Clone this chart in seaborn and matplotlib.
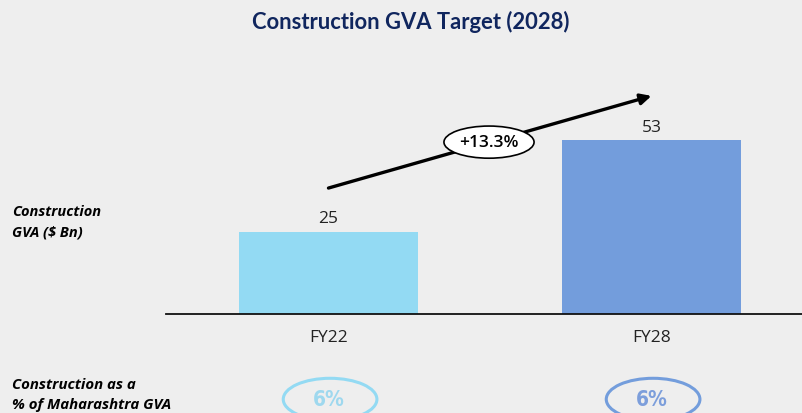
import matplotlib
matplotlib.use("Agg")
import matplotlib.pyplot as plt
from matplotlib.patches import Ellipse
import seaborn as sns
import pandas as pd

# Chart data
years = ["FY22", "FY28"]
gva_bn = [25, 53]
share_of_state = ["6%", "6%"]
growth_label = "+13.3%"
bar_colors = ["#93DAF3", "#739DDC"]
ring_text_colors = ["#9ED8EE", "#7C9EDB"]

BG = "#EEEEEE"
NAVY = "#10265E"

sns.set_theme(style="white")
plt.rcParams["font.family"] = ["Open Sans", "DejaVu Sans"]

fig = plt.figure(figsize=(8.02, 4.14), dpi=100, facecolor=BG)
# axes: baseline at 315 px from top, spanning x 166..802 px
ax = fig.add_axes([166 / 802, (414 - 315) / 414, (802 - 166) / 802, 262.4 / 414])
ax.set_facecolor(BG)

df = pd.DataFrame({"year": years, "gva": gva_bn})
sns.barplot(data=df, x="year", y="gva", hue="year", palette=bar_colors,
            width=0.554, legend=False, ax=ax, saturation=1, linewidth=0,
            edgecolor="none")

ax.set_xlim(-0.503, 1.466)
ax.set_ylim(0, 80)
ax.set_xlabel("")
ax.set_ylabel("")
ax.set_yticks([])
ax.tick_params(axis="x", length=0, pad=11, labelsize=12.5, labelcolor="#222222")
for s in ["top", "right", "left"]:
    ax.spines[s].set_visible(False)
ax.spines["bottom"].set_color("#111111")
ax.spines["bottom"].set_linewidth(1.3)

# value labels above bars
for i, v in enumerate(gva_bn):
    ax.text(i, v + 1.7, f"{v}", ha="center", va="bottom", fontsize=12.5,
            color="#222222")

# growth arrow with CAGR badge
ax.annotate("", xy=(1.0, 66.5), xytext=(0.0, 38.4),
            arrowprops=dict(arrowstyle="-|>", color="black", lw=2.4,
                            mutation_scale=16, shrinkA=0, shrinkB=0))
ax.add_patch(Ellipse((0.497, 52.4), 0.279, 9.8, facecolor="white",
                     edgecolor="black", lw=1.2, zorder=5))
ax.text(0.497, 52.4, growth_label, ha="center", va="center", fontsize=12.5,
        fontweight="semibold", color="black", zorder=6)

# share-of-state rings below the axis
for i, (txt, c_edge, c_txt) in enumerate(zip(share_of_state, bar_colors, ring_text_colors)):
    ax.add_patch(Ellipse((i + 0.005, -26.0), 0.29, 12.8, facecolor="none",
                         edgecolor=c_edge, lw=2.2, clip_on=False))
    ax.text(i, -26.0, txt, ha="center", va="center", fontsize=15,
            fontweight="semibold", color=c_txt, clip_on=False,
            family=["DejaVu Sans"], fontstretch="condensed")

# title and row captions
fig.text(411 / 802, 1 - 22 / 414, "Construction GVA Target (2028)",
         ha="center", va="center", fontsize=15.8, fontweight="bold", color=NAVY,
         family=["Lato", "DejaVu Sans"])
fig.text(12 / 802, 1 - 222 / 414, "Construction\nGVA ($ Bn)", ha="left",
         va="center", fontsize=10.5, fontweight="bold", style="italic",
         color="black", linespacing=1.55)
fig.text(12 / 802, 1 - 395 / 414, "Construction as a\n% of Maharashtra GVA",
         ha="left", va="center", fontsize=10.8, fontweight="bold",
         style="italic", color="black", linespacing=1.55)

fig.savefig("out.png", dpi=100, facecolor=BG)
